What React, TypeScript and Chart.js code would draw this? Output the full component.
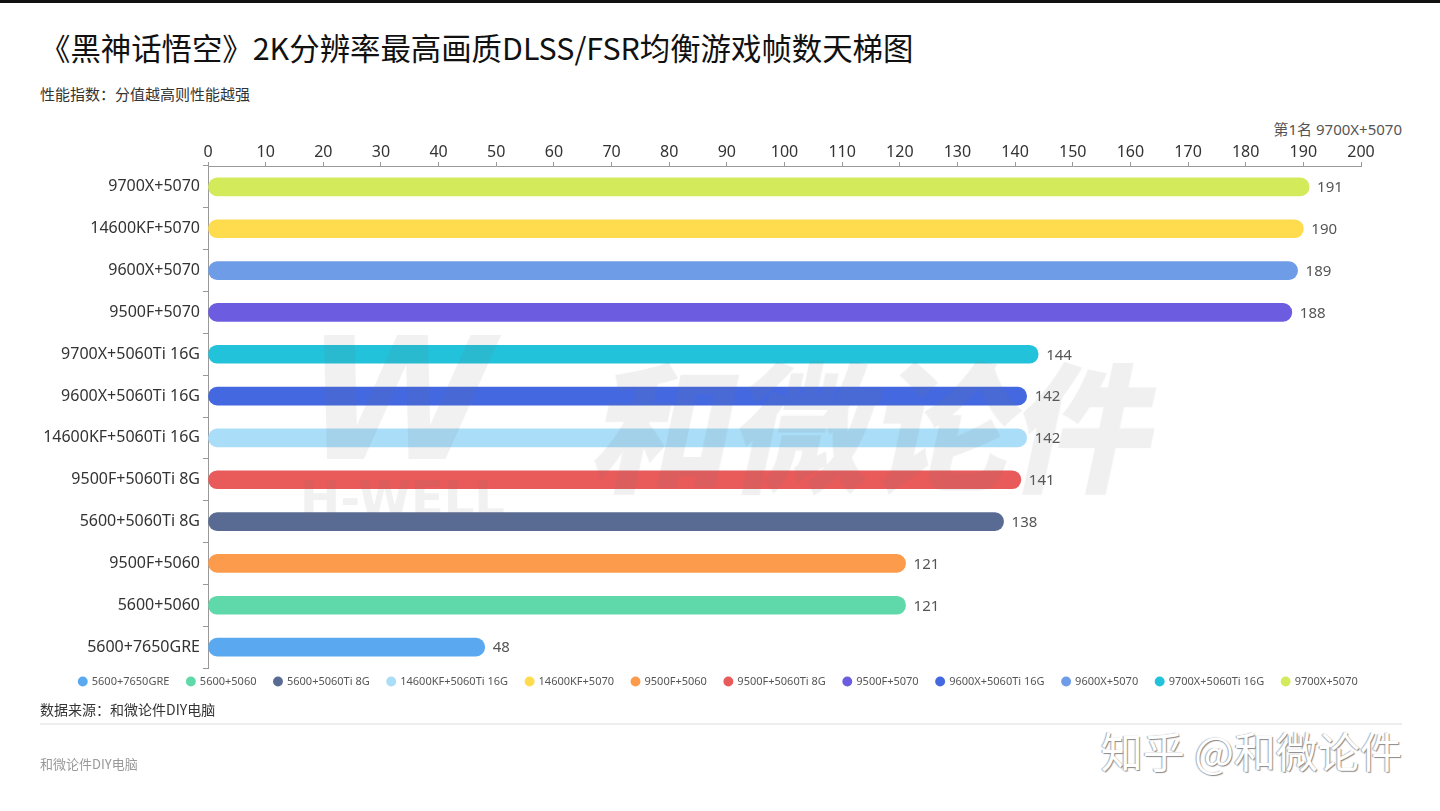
import React, { useEffect, useRef } from "react";
import { Chart, registerables } from "chart.js";

Chart.register(...registerables);

const categories = [
  "9700X+5070",
  "14600KF+5070",
  "9600X+5070",
  "9500F+5070",
  "9700X+5060Ti 16G",
  "9600X+5060Ti 16G",
  "14600KF+5060Ti 16G",
  "9500F+5060Ti 8G",
  "5600+5060Ti 8G",
  "9500F+5060",
  "5600+5060",
  "5600+7650GRE",
];
const fps = [191, 190, 189, 188, 144, 142, 142, 141, 138, 121, 121, 48];
const barColors = [
  "#d3ea5b",
  "#fedc4d",
  "#6e9ce6",
  "#6c5de0",
  "#22c2db",
  "#4368e0",
  "#a9ddf8",
  "#e95a5a",
  "#5a6b93",
  "#fd9b4c",
  "#5fd9a9",
  "#5aa9f0",
];
const legendOrder = [
  "5600+7650GRE",
  "5600+5060",
  "5600+5060Ti 8G",
  "14600KF+5060Ti 16G",
  "14600KF+5070",
  "9500F+5060",
  "9500F+5060Ti 8G",
  "9500F+5070",
  "9600X+5060Ti 16G",
  "9600X+5070",
  "9700X+5060Ti 16G",
  "9700X+5070",
];
const xTicks = [0, 10, 20, 30, 40, 50, 60, 70, 80, 90, 100, 110, 120, 130, 140, 150, 160, 170, 180, 190, 200];

const FONT = "'Noto Sans', 'Noto Sans CJK SC', sans-serif";
const CJK = "'Noto Sans CJK SC', 'Noto Sans', sans-serif";

const valueLabels = {
  id: "valueLabels",
  afterDatasetsDraw(chart: any) {
    const ctx = chart.ctx;
    const meta = chart.getDatasetMeta(0);
    ctx.save();
    ctx.font = `15px ${FONT}`;
    ctx.fillStyle = "#555";
    ctx.textBaseline = "middle";
    ctx.textAlign = "left";
    meta.data.forEach((el: any, i: number) => {
      ctx.fillText(String(fps[i]), el.x + 8, el.y + 1);
    });
    ctx.restore();
  },
};

const legendShift = {
  id: "legendShift",
  afterLayout(chart: any) {
    if (chart.legend) {
      chart.legend.top -= 10;
      chart.legend.bottom -= 10;
      chart.legend.left += 20;
      chart.legend.right += 20;
    }
  },
};

export default function App() {
  const ref = useRef<HTMLCanvasElement | null>(null);
  useEffect(() => {
    if (!ref.current) return;
    const chart = new Chart(ref.current, {
      type: "bar",
      data: {
        labels: categories,
        datasets: [
          {
            data: fps,
            backgroundColor: barColors,
            borderRadius: 9,
            borderSkipped: false,
            barThickness: 18,
          },
        ],
      },
      options: {
        indexAxis: "y",
        animation: false,
        responsive: false,
        maintainAspectRatio: false,
        layout: { padding: { left: 36, right: 79, top: 0, bottom: 0 } },
        plugins: {
          tooltip: { enabled: false },
          legend: {
            display: true,
            position: "bottom",
            labels: {
              usePointStyle: true,
              pointStyle: "circle",
              boxWidth: 7,
              boxHeight: 7,
              padding: 18,
              color: "#555",
              font: { family: FONT, size: 11 },
              generateLabels: () =>
                legendOrder.map((c) => {
                  const i = categories.indexOf(c);
                  return {
                    text: c,
                    fillStyle: barColors[i],
                    strokeStyle: barColors[i],
                    lineWidth: 0,
                    pointStyle: "circle",
                    hidden: false,
                    fontColor: "#555",
                    index: i,
                  };
                }),
            },
            onClick: () => {},
          },
        },
        scales: {
          x: {
            position: "top",
            min: 0,
            max: 200,
            afterBuildTicks: (scale: any) => {
              scale.ticks = xTicks.map((v) => ({ value: v }));
            },
            afterFit: (scale: any) => {
              scale.height = 54;
            },
            ticks: {
              color: "#333",
              font: { family: FONT, size: 16 },
              padding: 0,
            },
            grid: {
              drawOnChartArea: false,
              drawTicks: true,
              tickLength: 4,
              color: "#999",
            },
            border: { display: true, color: "#999", width: 1 },
          },
          y: {
            afterFit: (scale: any) => {
              scale.width = 172;
            },
            ticks: {
              color: "#333",
              font: { family: FONT, size: 16 },
              padding: 3,
            },
            grid: {
              drawOnChartArea: false,
              drawTicks: true,
              tickLength: 5,
              color: "#999",
            },
            border: { display: true, color: "#999", width: 1 },
          },
        },
      },
      plugins: [valueLabels, legendShift],
    });
    return () => chart.destroy();
  }, []);

  return (
    <div
      style={{
        position: "fixed",
        left: 0,
        top: 0,
        width: 1440,
        height: 811,
        background: "#fff",
        overflow: "hidden",
        fontFamily: CJK,
      }}
    >
      <div style={{ position: "absolute", left: 0, top: 0, width: 1440, height: 3, background: "#111" }} />
      <div style={{ position: "absolute", left: 40, top: 26, fontSize: 30.4, fontWeight: 400, color: "#111", whiteSpace: "nowrap", lineHeight: "42px" }}>
        《黑神话悟空》2K分辨率最高画质DLSS/FSR均衡游戏帧数天梯图
      </div>
      <div style={{ position: "absolute", left: 40, top: 84, fontSize: 15, color: "#333", lineHeight: "20px" }}>
        性能指数：分值越高则性能越强
      </div>
      <div style={{ position: "absolute", right: 38, top: 119, fontSize: 15, color: "#555", lineHeight: "20px", fontFamily: FONT, whiteSpace: "nowrap" }}>
        第1名 9700X+5070
      </div>
      <canvas
        ref={ref}
        width={1440}
        height={595}
        style={{ position: "absolute", left: 0, top: 112, width: 1440, height: 595 }}
      />
      <div
        style={{
          position: "absolute",
          left: 600,
          top: 330,
          fontSize: 140,
          fontWeight: 900,
          color: "rgba(120,120,120,0.11)",
          transform: "skewX(-12deg)",
          letterSpacing: 0,
          lineHeight: "180px",
          whiteSpace: "nowrap",
          pointerEvents: "none",
        }}
      >
        和微论件
      </div>
      <div
        style={{
          position: "absolute",
          left: 305,
          top: 300,
          fontSize: 170,
          fontWeight: 900,
          color: "rgba(120,120,120,0.1)",
          transform: "skewX(-12deg)",
          lineHeight: "200px",
          pointerEvents: "none",
          fontFamily: "'DejaVu Sans', sans-serif",
        }}
      >
        W
      </div>
      <div
        style={{
          position: "absolute",
          left: 300,
          top: 470,
          fontSize: 48,
          fontWeight: 900,
          color: "rgba(120,120,120,0.1)",
          lineHeight: "56px",
          pointerEvents: "none",
          fontFamily: "'DejaVu Sans', sans-serif",
        }}
      >
        H-WELL
      </div>
      <div style={{ position: "absolute", left: 40, top: 699, fontSize: 14, color: "#333", lineHeight: "20px" }}>
        数据来源：和微论件DIY电脑
      </div>
      <div style={{ position: "absolute", left: 40, top: 723, width: 1362, height: 2, background: "#eee" }} />
      <div style={{ position: "absolute", left: 40, top: 754, fontSize: 13, color: "#999", lineHeight: "20px" }}>
        和微论件DIY电脑
      </div>
      <div
        style={{
          position: "absolute",
          right: 38,
          top: 724,
          fontSize: 42,
          color: "#fff",
          lineHeight: "52px",
          textShadow: "1px 1px 1px #888, -1px 0 1px #aaa",
          whiteSpace: "nowrap",
        }}
      >
        知乎 @和微论件
      </div>
    </div>
  );
}
